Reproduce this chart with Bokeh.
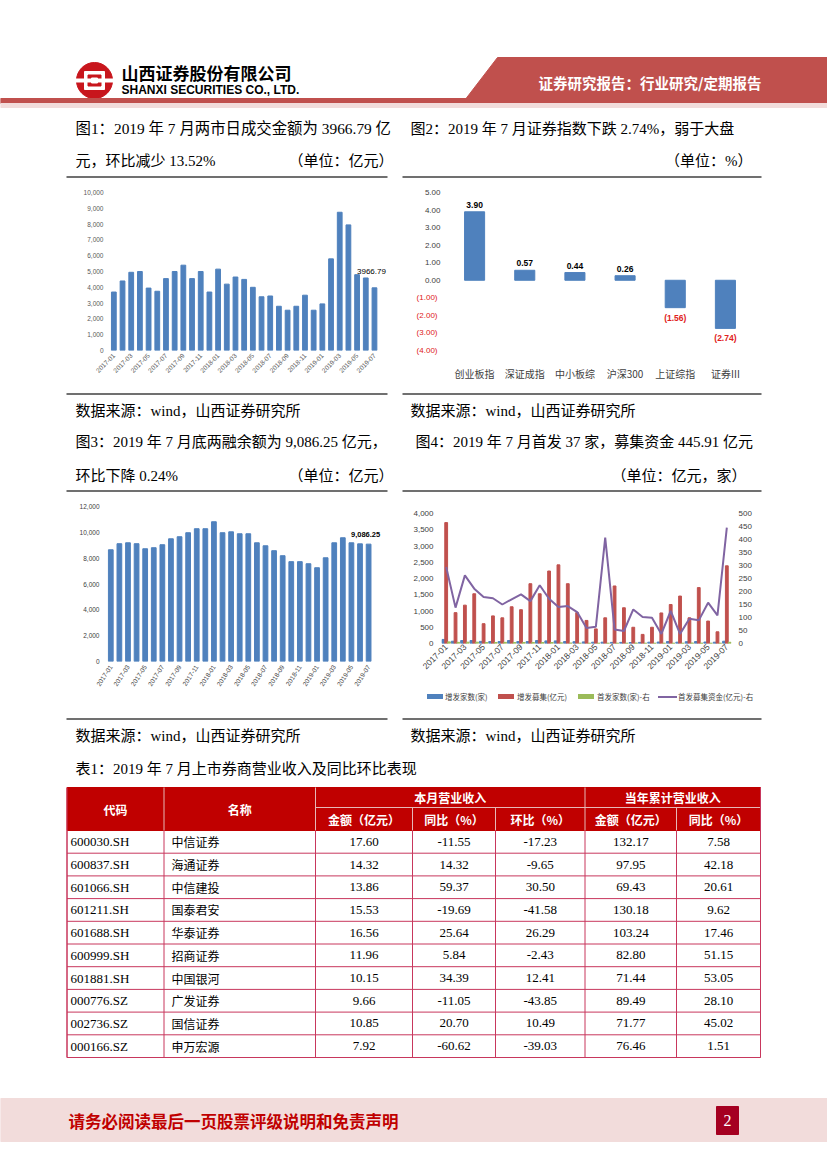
import numpy as np
from bokeh.plotting import figure
from bokeh.models import (Range1d, FactorRange, LinearAxis, FixedTicker, NumeralTickFormatter,
                          ColumnDataSource, Spacer, Div)
from bokeh.layouts import column, row
from bokeh.core.properties import value
from bokeh.transform import dodge
from bokeh.embed import file_html
from bokeh.resources import INLINE

# ---------------- data ----------------
months = ["2017-01", "2017-02", "2017-03", "2017-04", "2017-05", "2017-06", "2017-07", "2017-08",
          "2017-09", "2017-10", "2017-11", "2017-12", "2018-01", "2018-02", "2018-03", "2018-04",
          "2018-05", "2018-06", "2018-07", "2018-08", "2018-09", "2018-10", "2018-11", "2018-12",
          "2019-01", "2019-02", "2019-03", "2019-04", "2019-05", "2019-06", "2019-07"]

# Fig 1: daily average turnover (亿元)
turnover = [3700, 4400, 4950, 5000, 3950, 3750, 4550, 5000, 5400, 4550, 5000, 3700, 5150, 4200,
            4650, 4500, 4000, 3400, 3450, 2800, 2550, 2800, 3500, 2550, 2950, 5800, 8750, 7950,
            4800, 4590, 3966.79]

# Fig 2: index change (%)
idx_names = ["创业板指", "深证成指", "中小板综", "沪深300", "上证综指", "证券III"]
idx_chg = [3.90, 0.57, 0.44, 0.26, -1.56, -2.74]

# Fig 3: margin balance (亿元)
margin_bal = [8650, 9120, 9190, 9120, 8730, 8810, 9040, 9500, 9660, 9970, 10280, 10280, 10820,
              9970, 10040, 9890, 9890, 9190, 8960, 8580, 8190, 7730, 7730, 7570, 7260, 8030,
              9190, 9580, 9190, 9110, 9086.25]

# Fig 4: equity financing
spo_count = [125, 70, 90, 90, 65, 60, 60, 90, 60, 60, 90, 80, 80, 60, 55, 50, 40, 40, 35, 35,
             30, 35, 40, 45, 60, 40, 55, 60, 45, 40, 70]
spo_amount = [3720, 950, 1180, 1530, 610, 850, 790, 1130, 1040, 1840, 1530, 2230, 2420, 1840,
              950, 710, 450, 790, 1770, 1100, 500, 280, 500, 940, 1200, 1460, 790, 1720, 690,
              360, 2390]
ipo_count = [50, 35, 40, 40, 30, 30, 35, 30, 30, 30, 30, 30, 20, 15, 10, 10, 10, 10, 10, 10,
             15, 10, 10, 10, 10, 10, 15, 12, 10, 10, 37]
ipo_amount = [294, 138, 262, 211, 179, 174, 150, 170, 189, 163, 224, 172, 140, 144, 121, 60, 64,
              407, 54, 48, 131, 102, 99, 37, 125, 37, 95, 89, 157, 108, 445.91]
fig4_legend = ["增发家数(家)", "增发募集(亿元)", "首发家数(家)-右", "首发募集资金(亿元)-右"]

# Table 1
tbl_codes = ["600030.SH", "600837.SH", "601066.SH", "601211.SH", "601688.SH", "600999.SH",
             "601881.SH", "000776.SZ", "002736.SZ", "000166.SZ"]
tbl_names = ["中信证券", "海通证券", "中信建投", "国泰君安", "华泰证券", "招商证券", "中国银河",
             "广发证券", "国信证券", "申万宏源"]
tbl_m_amt = ["17.60", "14.32", "13.86", "15.53", "16.56", "11.96", "10.15", "9.66", "10.85", "7.92"]
tbl_m_yoy = ["-11.55", "14.32", "59.37", "-19.69", "25.64", "5.84", "34.39", "-11.05", "20.70", "-60.62"]
tbl_m_mom = ["-17.23", "-9.65", "30.50", "-41.58", "26.29", "-2.43", "12.41", "-43.85", "10.49", "-39.03"]
tbl_y_amt = ["132.17", "97.95", "69.43", "130.18", "103.24", "82.80", "71.44", "89.49", "71.77", "76.46"]
tbl_y_yoy = ["7.58", "42.18", "20.61", "9.62", "17.46", "51.15", "53.05", "28.10", "45.02", "1.51"]

# ---------------- styles ----------------
CJK = "Noto Sans CJK SC"
MIX = "Liberation Serif, Noto Sans CJK SC"
SERIF = "Liberation Serif"
SANS = "Liberation Sans"
BLUE = "#4F81BD"
RED = "#C0504D"
GREEN = "#9BBB59"
PURPLE = "#8064A2"
HDR_RED = "#C0504D"
TBL_RED = "#C00000"
LINE_RED = "#C8375D"
PAGE_W = 827


def page_fig(y0, y1, x0=0, x1=PAGE_W):
    p = figure(width=x1 - x0, height=y1 - y0, x_range=Range1d(x0, x1), y_range=Range1d(y1, y0),
               output_backend="svg", toolbar_location=None, min_border=0,
               x_axis_location=None, y_axis_location=None)
    p.grid.visible = False
    p.outline_line_color = None
    p.background_fill_color = "white"
    p.border_fill_color = "white"
    return p


def txt(p, x, y, s, size=15, color="black", font=MIX, align="left", style="normal", baseline="middle"):
    p.text(x=[x], y=[y], text=[s], text_font=value(font), text_font_size=f"{size}px",
           text_color=color, text_align=align, text_baseline=baseline, text_font_style=style)


def hline(p, x0, x1, y, color="#404040", w=1.5):
    p.segment(x0=[x0], x1=[x1], y0=[y], y1=[y], line_color=color, line_width=w)


def chart(w, h, left, right, top, bottom, xr, yr):
    p = figure(width=w, height=h, x_range=xr, y_range=yr, output_backend="svg",
               toolbar_location=None, min_border_left=left, min_border_right=right,
               min_border_top=top, min_border_bottom=bottom)
    p.outline_line_color = None
    p.grid.visible = False
    for ax in p.axis:
        ax.axis_line_color = None
        ax.major_tick_line_color = None
        ax.minor_tick_line_color = None
        ax.major_tick_out = 0
        ax.major_tick_in = 0
        ax.major_label_text_font = SANS
    return p


# ---------------- row A: header + captions ----------------
pa = page_fig(0, 178)
# logo
pa.circle(x=[94], y=[80], radius=18, color="#C8161D")
pa.rect(x=[94], y=[80], width=20, height=18, color="white")
pa.rect(x=[94], y=[80], width=13, height=11, color="#C8161D")
pa.rect(x=[94], y=[80], width=6, height=5, color="white")
pa.rect(x=[94], y=[80], width=40, height=3, color="white")
txt(pa, 121, 72, "山西证券股份有限公司", size=17, font=CJK, style="bold")
txt(pa, 121, 89, "SHANXI SECURITIES CO., LTD.", size=12, font=SANS, style="bold")
pa.patch(x=[497, PAGE_W, PAGE_W, 464], y=[57, 57, 100, 100], color=HDR_RED)
txt(pa, 538, 82, "证券研究报告：行业研究/定期报告", size=14.5, color="white", font=CJK, style="bold")
pa.quad(left=[0], right=[PAGE_W], top=[98], bottom=[103], color=HDR_RED)
pa.quad(left=[0], right=[PAGE_W], top=[103], bottom=[107], color="#F2DCDB")
txt(pa, 75, 128, "图1：2019 年 7 月两市日成交金额为 3966.79 亿", size=15.4)
txt(pa, 75, 160, "元，环比减少 13.52%")
txt(pa, 393, 160, "（单位：亿元）", align="right")
txt(pa, 410, 128, "图2：2019 年 7 月证券指数下跌 2.74%，弱于大盘")
txt(pa, 752, 160, "（单位：%）", align="right")
hline(pa, 66, 387, 176.5)
hline(pa, 402, 761, 176.5)

# ---------------- chart 1 ----------------
p1 = chart(322, 214, 43, 1, 12, 42, Range1d(-0.5, 31.5), Range1d(0, 10000))
src1 = ColumnDataSource(dict(x=list(range(len(months))), y=turnover))
p1.vbar(x="x", top="y", width=0.55, source=src1, color=BLUE)
p1.text(x=[len(months) - 1], y=[turnover[-1]], text=["3966.79"], x_offset=-3, y_offset=-16,
        text_align="center", text_baseline="middle", text_font=value(SANS), text_font_size="8px",
        text_color="black")
p1.yaxis.ticker = FixedTicker(ticks=list(range(0, 10001, 1000)))
p1.yaxis.formatter = NumeralTickFormatter(format="0,0")
p1.yaxis.major_label_standoff = 6
p1.yaxis.major_label_text_font_size = "6.5px"
p1.yaxis.major_label_text_color = "#595959"
p1.xaxis.ticker = FixedTicker(ticks=list(range(0, 31, 2)))
p1.xaxis.major_label_overrides = {i: months[i] for i in range(0, 31, 2)}
p1.xaxis.major_label_orientation = np.pi / 4
p1.xaxis.major_label_standoff = 4
p1.xaxis.major_label_text_font_size = "6.5px"
p1.xaxis.major_label_text_color = "#595959"

# ---------------- chart 2 ----------------
p2 = chart(363, 214, 47, 15, 14, 34, FactorRange(*idx_names), Range1d(-4, 5))
lab2 = [f"{v:.2f}" if v >= 0 else f"({-v:.2f})" for v in idx_chg]
col2 = ["black" if v >= 0 else "#E02020" for v in idx_chg]
base2 = ["bottom" if v >= 0 else "top" for v in idx_chg]
off2 = [-4 if v >= 0 else 5 for v in idx_chg]
src2 = ColumnDataSource(dict(x=idx_names, y=idx_chg, lab=lab2, col=col2, base=base2, off=off2))
p2.vbar(x="x", top="y", bottom=0, width=0.4, source=src2, color=BLUE)
p2.text(x="x", y="y", text="lab", text_color="col", text_baseline="base", y_offset="off",
        text_align="center", text_font=value(SANS), text_font_size="8.5px",
        text_font_style="bold", source=src2)
p2.yaxis.ticker = FixedTicker(ticks=[0, 1, 2, 3, 4, 5])
p2.yaxis.formatter = NumeralTickFormatter(format="0.00")
p2.yaxis.major_label_standoff = 9
p2.yaxis.major_label_text_font_size = "8px"
p2.yaxis.major_label_text_color = "#404040"
# negative tick labels (red, in parentheses) on a second left axis pulled back over the first
neg_ax = LinearAxis(ticker=FixedTicker(ticks=[-4, -3, -2, -1]),
                    formatter=NumeralTickFormatter(format="(0.00)"),
                    axis_line_color=None, major_tick_line_color=None, minor_tick_line_color=None,
                    major_tick_out=0, major_tick_in=0, major_label_standoff=-16,
                    major_label_text_font=SANS, major_label_text_font_size="8px",
                    major_label_text_color="#E02020")
p2.add_layout(neg_ax, "left")
p2.xaxis.major_label_text_font = CJK
p2.xaxis.major_label_text_font_size = "10px"
p2.xaxis.major_label_text_color = "#404040"
p2.xaxis.major_label_standoff = 15

# ---------------- row C ----------------
pc = page_fig(392, 492)
hline(pc, 66, 387, 393.5)
hline(pc, 402, 761, 393.5)
txt(pc, 75, 410, "数据来源：wind，山西证券研究所")
txt(pc, 410, 410, "数据来源：wind，山西证券研究所")
txt(pc, 75, 441, "图3：2019 年 7 月底两融余额为 9,086.25 亿元，")
txt(pc, 75, 475, "环比下降 0.24%")
txt(pc, 393, 475, "（单位：亿元）", align="right")
txt(pc, 415, 441, "图4：2019 年 7 月首发 37 家，募集资金 445.91 亿元")
txt(pc, 746, 475, "（单位：亿元，家）", align="right")
hline(pc, 66, 387, 490.5)
hline(pc, 402, 761, 490.5)

# ---------------- chart 3 ----------------
p3 = chart(322, 215, 40, 7, 14, 46, Range1d(-0.5, 31.5), Range1d(0, 12000))
src3 = ColumnDataSource(dict(x=list(range(len(months))), y=margin_bal))
p3.vbar(x="x", top="y", width=0.55, source=src3, color=BLUE)
p3.text(x=[len(months) - 1], y=[margin_bal[-1]], text=["9,086.25"], x_offset=-3, y_offset=-10,
        text_align="center", text_baseline="middle", text_font=value(SANS), text_font_size="7.5px",
        text_font_style="bold", text_color="black")
p3.yaxis.ticker = FixedTicker(ticks=list(range(0, 12001, 2000)))
p3.yaxis.formatter = NumeralTickFormatter(format="0,0")
p3.yaxis.major_label_standoff = 7
p3.yaxis.major_label_text_font_size = "6.5px"
p3.yaxis.major_label_text_color = "#404040"
p3.xaxis.ticker = FixedTicker(ticks=list(range(0, 31, 2)))
p3.xaxis.major_label_overrides = {i: months[i] for i in range(0, 31, 2)}
p3.xaxis.major_label_orientation = np.pi * 57 / 180
p3.xaxis.major_label_standoff = 4
p3.xaxis.major_label_text_font_size = "6.5px"
p3.xaxis.major_label_text_color = "#404040"

# ---------------- chart 4 ----------------
p4 = chart(363, 186, 39, 34, 21, 35, Range1d(-0.5, 30.5), Range1d(0, 4000))
p4.extra_y_ranges = {"r": Range1d(0, 500)}
src4 = ColumnDataSource(dict(x=list(range(len(months))), a=spo_count, b=spo_amount,
                             c=ipo_count, d=ipo_amount))
p4.vbar(x=dodge("x", -0.3), top="a", width=0.3, source=src4, color=BLUE)
p4.vbar(x="x", top="b", width=0.3, source=src4, color=RED)
p4.vbar(x=dodge("x", 0.3), top="c", width=0.3, source=src4, color=GREEN)
p4.line(x="x", y="d", source=src4, color=PURPLE, line_width=2, y_range_name="r")
p4.yaxis.ticker = FixedTicker(ticks=list(range(0, 4001, 500)))
p4.yaxis.formatter = NumeralTickFormatter(format="0,0")
p4.yaxis.major_label_standoff = 8
ax_r = LinearAxis(y_range_name="r", ticker=FixedTicker(ticks=list(range(0, 501, 50))),
                  axis_line_color=None, major_tick_line_color=None, minor_tick_line_color=None,
                  major_tick_out=0, major_tick_in=0, major_label_standoff=7,
                  major_label_text_font=SANS)
p4.add_layout(ax_r, "right")
for ax in [p4.yaxis[0], ax_r]:
    ax.major_label_text_font_size = "8px"
    ax.major_label_text_color = "#404040"
p4.xaxis.ticker = FixedTicker(ticks=list(range(0, 31, 2)))
p4.xaxis.major_label_overrides = {i: months[i] for i in range(0, 31, 2)}
p4.xaxis.major_label_orientation = np.pi / 4
p4.xaxis.major_label_standoff = 2
p4.xaxis.major_label_text_font_size = "8.5px"
p4.xaxis.major_label_text_color = "#404040"

# legend strip for chart 4, as an HTML block under the chart
sw_colors = [BLUE, RED, GREEN]
sw_left = [20, 91, 171]
tx_left = [38, 110, 190, 271]
parts = ['<div style="position:relative;width:363px;height:29px;margin:0;padding:0;'
         'font-family:\'Noto Sans CJK SC\';color:#404040;">']
for c, l in zip(sw_colors, sw_left):
    parts.append(f'<span style="position:absolute;left:{l}px;top:11px;width:16px;height:5px;'
                 f'background:{c};"></span>')
parts.append(f'<span style="position:absolute;left:251px;top:13px;width:19px;height:2px;'
             f'background:{PURPLE};"></span>')
for s, l in zip(fig4_legend, tx_left):
    parts.append(f'<span style="position:absolute;left:{l}px;top:9px;line-height:10px;'
                 f'font-size:7.5px;white-space:nowrap;">{s}</span>')
parts.append('</div>')
leg_div = Div(text="".join(parts), width=363, height=29)
col4 = column(p4, leg_div, spacing=0)

# ---------------- row E: table + footer ----------------
pe = page_fig(707, 1166)
hline(pe, 66, 387, 708.5)
hline(pe, 402, 761, 708.5)
txt(pe, 75, 725, "数据来源：wind，山西证券研究所")
txt(pe, 410, 725, "数据来源：wind，山西证券研究所")
txt(pe, 75, 758, "表1：2019 年 7 月上市券商营业收入及同比环比表现")

cx = [66.5, 163.5, 315, 412, 495, 584.5, 676, 760]
ty0, tmid, ty1 = 777, 797, 820
rh = 22.7
nrow = len(tbl_codes)
pe.quad(left=[cx[0]], right=[cx[-1]], top=[ty0], bottom=[ty1], color=TBL_RED)
hl = "#E6B8B7"
pe.segment(x0=[cx[2]], x1=[cx[-1]], y0=[tmid], y1=[tmid], line_color=hl, line_width=1)
pe.segment(x0=[cx[1], cx[2], cx[5]], x1=[cx[1], cx[2], cx[5]], y0=[ty0] * 3, y1=[ty1] * 3,
           line_color=hl, line_width=1)
pe.segment(x0=[cx[3], cx[4], cx[6]], x1=[cx[3], cx[4], cx[6]], y0=[tmid] * 3, y1=[ty1] * 3,
           line_color=hl, line_width=1)
hdr_font = 12
txt(pe, (cx[0] + cx[1]) / 2, 799, "代码", size=hdr_font, color="white", font=CJK, align="center", style="bold")
txt(pe, (cx[1] + cx[2]) / 2, 799, "名称", size=hdr_font, color="white", font=CJK, align="center", style="bold")
txt(pe, (cx[2] + cx[5]) / 2, 787, "本月营业收入", size=hdr_font, color="white", font=CJK, align="center", style="bold")
txt(pe, (cx[5] + cx[7]) / 2, 787, "当年累计营业收入", size=hdr_font, color="white", font=CJK, align="center", style="bold")
subs = ["金额（亿元）", "同比（%）", "环比（%）", "金额（亿元）", "同比（%）"]
for i, s in enumerate(subs):
    txt(pe, (cx[2 + i] + cx[3 + i]) / 2, 809, s, size=hdr_font, color="white", font=CJK,
        align="center", style="bold")
# grid
ys = [ty1 + rh * (i + 1) for i in range(nrow)]
pe.segment(x0=[cx[0]] * nrow, x1=[cx[-1]] * nrow, y0=ys, y1=ys, line_color=LINE_RED, line_width=1)
yb = ty1 + rh * nrow
pe.segment(x0=cx, x1=cx, y0=[ty1] * len(cx), y1=[yb] * len(cx), line_color=LINE_RED, line_width=1)
pe.segment(x0=[cx[0], cx[-1]], x1=[cx[0], cx[-1]], y0=[ty0, ty0], y1=[yb, yb], line_color=LINE_RED, line_width=1)
# cells
yc = [ty1 + rh * (i + 0.5) for i in range(nrow)]
pe.text(x=[70] * nrow, y=yc, text=tbl_codes, text_font=value(SERIF), text_font_size="13px",
        text_baseline="middle", text_align="left", text_color="black")
pe.text(x=[171] * nrow, y=yc, text=tbl_names, text_font=value(CJK), text_font_size="12px",
        text_baseline="middle", text_align="left", text_color="black")
for j, colv in enumerate([tbl_m_amt, tbl_m_yoy, tbl_m_mom, tbl_y_amt, tbl_y_yoy]):
    xm = (cx[2 + j] + cx[3 + j]) / 2
    pe.text(x=[xm] * nrow, y=yc, text=colv, text_font=value(SERIF), text_font_size="13px",
            text_baseline="middle", text_align="center", text_color="black")
# footer
pe.quad(left=[0], right=[PAGE_W], top=[1088], bottom=[1131], color="#F2DCDB")
txt(pe, 68, 1110, "请务必阅读最后一页股票评级说明和免责声明", size=16.5, color="#C00000", font=CJK, style="bold")
pe.quad(left=[716], right=[738], top=[1096], bottom=[1124], color="#A50021")
txt(pe, 727, 1110, "2", size=16, color="white", font=SERIF, align="center")

# ---------------- layout ----------------
rowB = row(Spacer(width=66, height=214), p1, Spacer(width=14, height=214), p2,
           Spacer(width=62, height=214), spacing=0)
rowD = row(Spacer(width=66, height=215), p3, Spacer(width=14, height=215), col4,
           Spacer(width=62, height=215), spacing=0)
page = column(pa, rowB, pc, rowD, pe, spacing=0)

open("out.html", "w").write(file_html(page, INLINE))
